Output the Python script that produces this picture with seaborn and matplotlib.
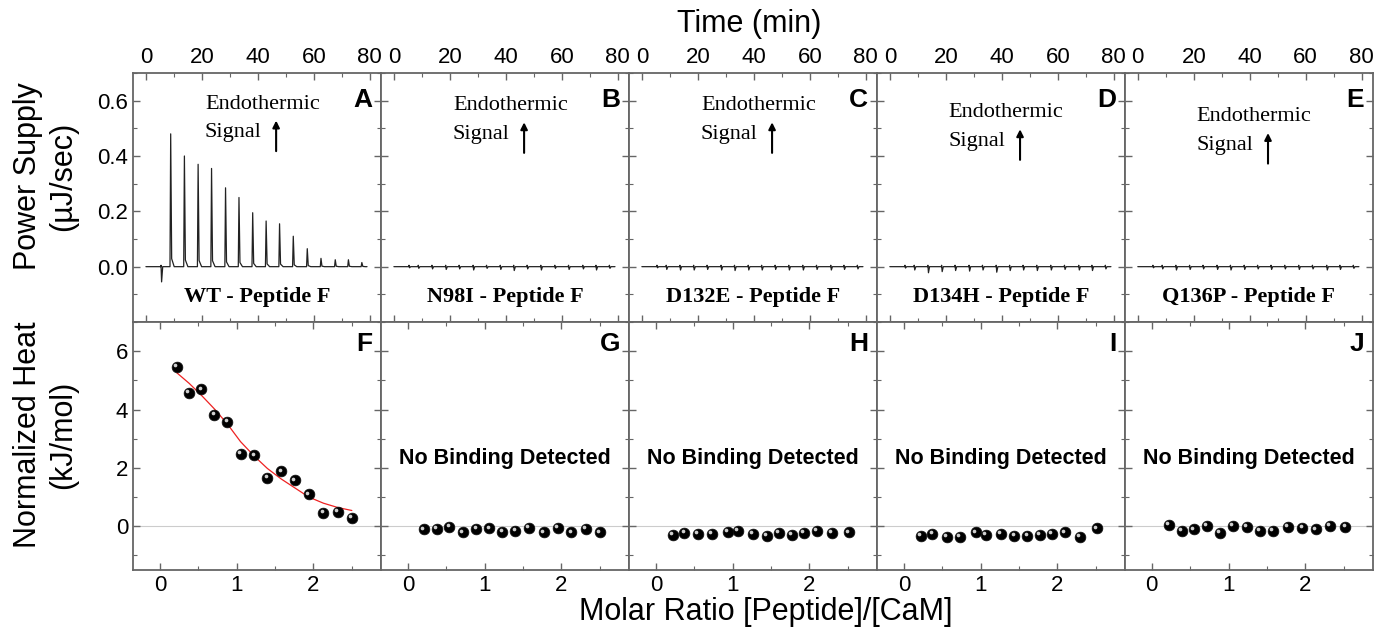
import numpy as np
import pandas as pd
import matplotlib
matplotlib.use('Agg')
import matplotlib.pyplot as plt
import seaborn as sns
from matplotlib.ticker import MultipleLocator

sns.set_theme(style='white')
plt.rcParams['font.family'] = ['Liberation Sans', 'DejaVu Sans']
plt.rcParams['text.color'] = 'black'
plt.rcParams['xtick.labelcolor'] = 'black'
plt.rcParams['ytick.labelcolor'] = 'black'

# ---- data ----
variants = ['WT', 'N98I', 'D132E', 'D134H', 'Q136P']
top_letters = ['A', 'B', 'C', 'D', 'E']
bot_letters = ['F', 'G', 'H', 'I', 'J']

# injection times (min) and raw peak heights (uJ/sec)
inj_time = [5.4, 8.7, 13.6, 18.5, 23.3, 28.3, 33.1, 38.0, 42.8, 47.6,
            52.5, 57.5, 62.4, 67.5, 72.2, 77.0]
peak_wt = [-0.055, 0.48, 0.40, 0.37, 0.355, 0.285, 0.25, 0.195, 0.165,
           0.155, 0.11, 0.065, 0.03, 0.025, 0.025, 0.015]
peak_n98i = [-0.004, -0.006, -0.008, -0.010, -0.008, -0.012, -0.006, -0.010,
             -0.014, -0.008, -0.012, -0.006, -0.010, -0.008, -0.012, -0.006]
peak_d132e = [-0.004, -0.010, -0.012, -0.012, -0.010, -0.012, -0.014, -0.012,
              -0.012, -0.010, -0.012, -0.012, -0.010, -0.012, -0.010, -0.008]
peak_d134h = [-0.005, -0.012, -0.022, -0.018, -0.014, -0.016, -0.012, -0.020,
              -0.014, -0.012, -0.014, -0.012, -0.010, -0.012, -0.014, -0.008]
peak_q136p = [-0.004, -0.008, -0.012, -0.010, -0.008, -0.010, -0.012, -0.010,
              -0.008, -0.010, -0.008, -0.010, -0.008, -0.012, -0.010, -0.006]
peaks = [peak_wt, peak_n98i, peak_d132e, peak_d134h, peak_q136p]

# integrated heats (kJ/mol) vs molar ratio
ratio_wt = [0.22, 0.38, 0.54, 0.71, 0.88, 1.05, 1.23, 1.40, 1.58, 1.76, 1.94, 2.13, 2.32, 2.50]
heat_wt = [5.46, 4.57, 4.69, 3.83, 3.57, 2.49, 2.43, 1.66, 1.88, 1.57, 1.09, 0.46, 0.48, 0.29]
fit_ratio = [0.22, 0.38, 0.54, 0.71, 0.88, 1.05, 1.23, 1.40, 1.58, 1.76, 1.94, 2.13, 2.32, 2.50]
fit_heat = [5.26, 4.90, 4.49, 4.02, 3.50, 2.90, 2.40, 1.98, 1.62, 1.31, 1.00, 0.79, 0.64, 0.54]

ratio_n98i = [0.21, 0.38, 0.54, 0.72, 0.89, 1.06, 1.23, 1.40, 1.58, 1.77, 1.95, 2.13, 2.32, 2.50]
heat_n98i = [-0.11, -0.09, -0.02, -0.21, -0.09, -0.07, -0.18, -0.17, -0.06, -0.21, -0.05, -0.21, -0.08, -0.21]
ratio_d132e = [0.22, 0.37, 0.55, 0.73, 0.94, 1.07, 1.26, 1.45, 1.60, 1.77, 1.93, 2.10, 2.29, 2.51]
heat_d132e = [-0.29, -0.23, -0.25, -0.25, -0.19, -0.15, -0.26, -0.32, -0.23, -0.29, -0.23, -0.15, -0.23, -0.21]
ratio_d134h = [0.22, 0.37, 0.56, 0.73, 0.94, 1.07, 1.26, 1.44, 1.61, 1.77, 1.93, 2.10, 2.29, 2.51]
heat_d134h = [-0.32, -0.25, -0.37, -0.37, -0.21, -0.30, -0.25, -0.32, -0.34, -0.29, -0.25, -0.21, -0.37, -0.07]
ratio_q136p = [0.22, 0.39, 0.55, 0.72, 0.89, 1.06, 1.24, 1.41, 1.58, 1.77, 1.96, 2.14, 2.32, 2.52]
heat_q136p = [0.05, -0.17, -0.11, 0.0, -0.23, 0.02, -0.02, -0.15, -0.15, -0.02, -0.06, -0.11, 0.02, -0.02]
ratios = [ratio_wt, ratio_n98i, ratio_d132e, ratio_d134h, ratio_q136p]
heats = [heat_wt, heat_n98i, heat_d132e, heat_d134h, heat_q136p]

power_ticks = [0.0, 0.2, 0.4, 0.6]
heat_ticks = [0, 2, 4, 6]

# label heights (axes fraction) for the "Endothermic Signal" note
endo_y = [0.875, 0.868, 0.868, 0.84, 0.825]


def thermogram(times, heights):
    # baseline with a sharp spike at each injection
    t, p = [0.0], [0.0]
    for ti, h in zip(times, heights):
        if h > 0:
            t += [ti - 0.1, ti + 0.15, ti + 0.5, ti + 1.4]
            p += [0.0, h, 0.06 * h, 0.0]
        else:
            t += [ti - 0.1, ti, ti + 0.2, ti + 0.6]
            p += [0.0, 0.005, h, 0.0]
    t.append(79.0)
    p.append(0.0)
    return pd.DataFrame({'time': t, 'power': p})


spine_col = '#666666'
fig = plt.figure(figsize=(13.83, 6.33), dpi=100)
left, width = 0.0962, 0.1793
top_b, mid_b, bot_b = 0.8847, 0.4913, 0.0995

for i in range(5):
    ax_t = fig.add_axes([left + i * width, mid_b, width, top_b - mid_b])
    ax_b = fig.add_axes([left + i * width, bot_b, width, mid_b - bot_b])

    # ---- raw thermogram ----
    df_t = thermogram(inj_time, peaks[i])
    sns.lineplot(data=df_t, x='time', y='power', ax=ax_t, sort=False,
                 estimator=None, color='#222222', linewidth=0.9)
    ax_t.set_xlim(-4.6, 84)
    ax_t.set_ylim(-0.2, 0.7)
    ax_t.xaxis.set_major_locator(MultipleLocator(20))
    ax_t.xaxis.set_minor_locator(MultipleLocator(10))
    ax_t.set_yticks(power_ticks)
    ax_t.yaxis.set_minor_locator(MultipleLocator(0.1))
    ax_t.xaxis.tick_top()
    ax_t.tick_params(axis='x', which='both', labeltop=True, labelbottom=False)
    ax_t.set_xlabel('')
    ax_t.set_ylabel('')
    ax_t.text(0.965, 0.89, top_letters[i], transform=ax_t.transAxes, ha='right',
              va='center', fontsize=19, fontweight='bold')
    ax_t.text(0.29, endo_y[i], 'Endothermic', transform=ax_t.transAxes,
              family=['Liberation Serif'], fontsize=16, va='center')
    ax_t.text(0.29, endo_y[i] - 0.115, 'Signal', transform=ax_t.transAxes,
              family=['Liberation Serif'], fontsize=16, va='center')
    ax_t.annotate('', xy=(0.577, endo_y[i] - 0.055), xytext=(0.577, endo_y[i] - 0.2),
                  xycoords='axes fraction',
                  arrowprops=dict(arrowstyle='-|>', color='black', lw=1.5,
                                  mutation_scale=10))
    ax_t.text(0.5, 0.10, variants[i] + ' - Peptide F', transform=ax_t.transAxes,
              ha='center', va='center', family=['Liberation Serif'],
              fontsize=16, fontweight='bold')

    # ---- integrated heats ----
    ax_b.axhline(0, color='#cccccc', linewidth=0.8, zorder=0)
    df_b = pd.DataFrame({'ratio': ratios[i], 'heat': heats[i]})
    sns.scatterplot(data=df_b, x='ratio', y='heat', ax=ax_b, color='black',
                    s=60, edgecolor='#111111', linewidth=0.5, zorder=3)
    # small highlight to give the spheres a shaded look
    ax_b.scatter(np.array(ratios[i]) - 0.022, np.array(heats[i]) + 0.06,
                 s=7, color='#d0d0d0', linewidths=0, zorder=4)
    if i == 0:
        df_fit = pd.DataFrame({'ratio': fit_ratio, 'heat': fit_heat})
        sns.lineplot(data=df_fit, x='ratio', y='heat', ax=ax_b, color='#ee2222',
                     linewidth=0.9, zorder=2)
    else:
        ax_b.text(0.5, 0.45, 'No Binding Detected', transform=ax_b.transAxes,
                  ha='center', va='center', fontsize=15.5, fontweight='bold')
    ax_b.text(0.965, 0.91, bot_letters[i], transform=ax_b.transAxes, ha='right',
              va='center', fontsize=19, fontweight='bold')
    ax_b.set_xlim(-0.35, 2.88)
    ax_b.set_ylim(-1.5, 7)
    ax_b.xaxis.set_major_locator(MultipleLocator(1))
    ax_b.xaxis.set_minor_locator(MultipleLocator(0.5))
    ax_b.set_yticks(heat_ticks)
    ax_b.yaxis.set_minor_locator(MultipleLocator(1))
    ax_b.set_xlabel('')
    ax_b.set_ylabel('')

    for ax in (ax_t, ax_b):
        for sp in ax.spines.values():
            sp.set_color(spine_col)
            sp.set_linewidth(1.3)
        ax.tick_params(which='both', direction='in', top=True, bottom=True,
                       left=True, right=True, color=spine_col, labelsize=16,
                       labelcolor='black')
        ax.tick_params(which='major', length=5, width=1.0)
        ax.tick_params(which='minor', length=3, width=0.8)
        if i > 0:
            ax.tick_params(axis='y', labelleft=False)

fig.text(0.5416, 0.962, 'Time (min)', ha='center', va='center', fontsize=22)
fig.text(0.554, 0.033, 'Molar Ratio [Peptide]/[CaM]', ha='center', va='center', fontsize=22)
fig.text(0.033, 0.722, 'Power Supply\n(µJ/sec)', ha='center', va='center',
         rotation=90, fontsize=22, linespacing=1.2)
fig.text(0.033, 0.313, 'Normalized Heat\n(kJ/mol)', ha='center', va='center',
         rotation=90, fontsize=22, linespacing=1.2)

fig.savefig('out.png', dpi=100)
